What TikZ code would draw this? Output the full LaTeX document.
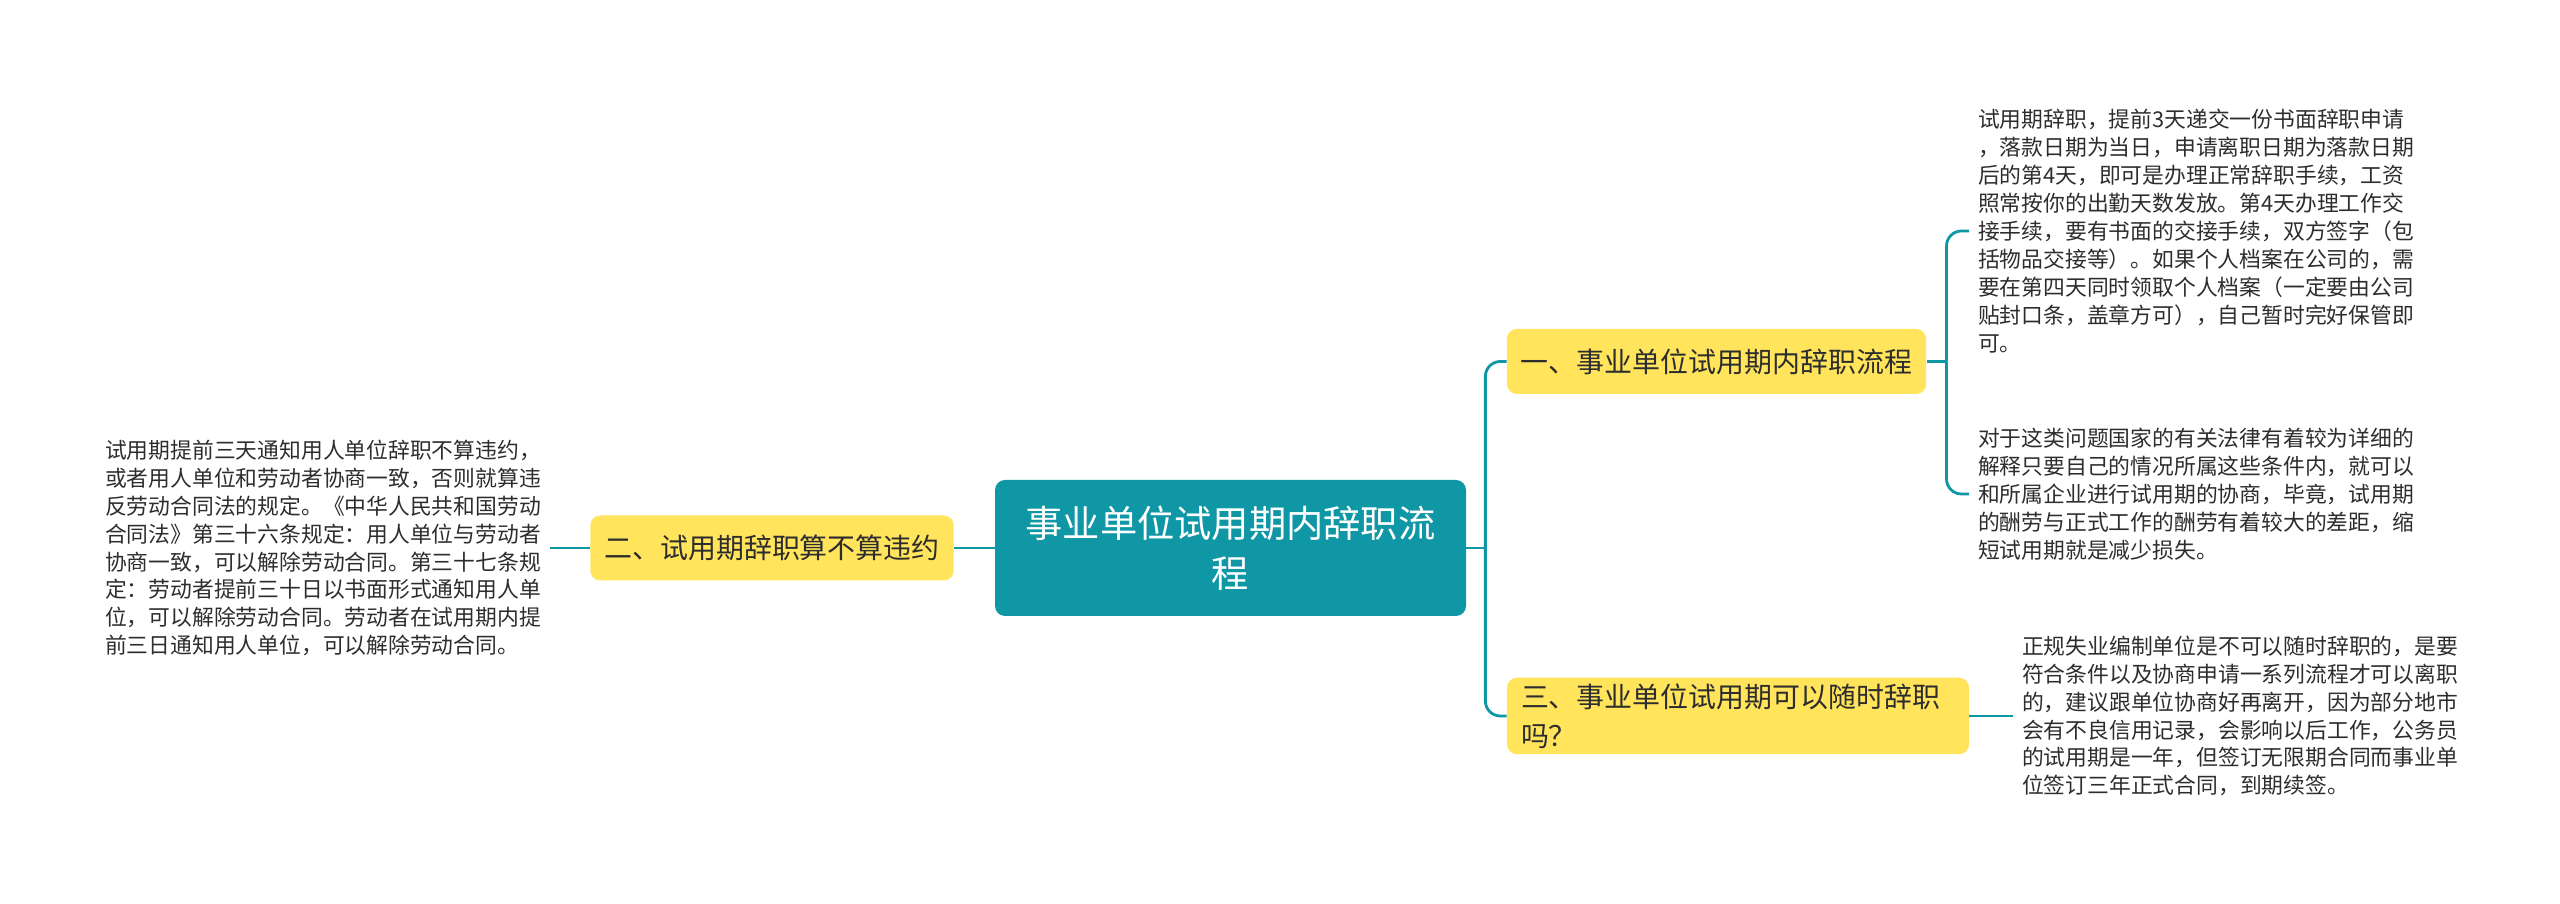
\documentclass[tikz,border=0pt]{standalone}
\usepackage{tikz}
\usepackage{xcolor}
\usepackage{fontspec}
\setmainfont{Noto Sans CJK SC}
\usetikzlibrary{shapes,arrows,positioning,calc}
\definecolor{mapteal}{RGB}{16,151,166}
\definecolor{mapyellow}{RGB}{255,228,92}
\definecolor{maptext}{RGB}{45,45,45}

\begin{document}
\begin{tikzpicture}[
    topic/.style={fill=mapteal, rounded corners=0.2cm, text=white, align=center, minimum width=9.42cm, minimum height=2.72cm, font=\fontsize{21.2pt}{28.4pt}\selectfont},
    branch/.style={fill=mapyellow, rounded corners=0.2cm, text=maptext, minimum height=1.3cm, inner xsep=8pt, font=\fontsize{15.9pt}{22.2pt}\selectfont},
    note/.style={text=maptext, align=left, inner xsep=5pt, inner ysep=0pt, font=\fontsize{12.4pt}{15.9pt}\selectfont},
    link/.style={mapteal, line width=1.6pt}
]
				\useasboundingbox (0,0) rectangle (51.2,18.08);
				
				% Central topic
				\node[topic] (topic) at (24.61,7.12) {事业单位试用期内辞职流\\程};
				
				% Branches
				\node[branch] (n2) at (15.44,7.12) {二、试用期辞职算不算违约};
				\node[branch] (n1) at (34.33,10.85) {一、事业单位试用期内辞职流程};
				\node[branch, text width=8.68cm, align=left] (n3) at (34.76,3.76) {三、事业单位试用期可以随时辞职\\吗？};
				
				% Notes
				\node[note, anchor=west] (t0) at (1.92,7.12) {试用期提前三天通知用人单位辞职不算违约，\\或者用人单位和劳动者协商一致，否则就算违\\反劳动合同法的规定。《中华人民共和国劳动\\合同法》第三十六条规定：用人单位与劳动者\\协商一致，可以解除劳动合同。第三十七条规\\定：劳动者提前三十日以书面形式通知用人单\\位，可以解除劳动合同。劳动者在试用期内提\\前三日通知用人单位，可以解除劳动合同。};
				\node[note, anchor=west] (t1) at (39.38,13.46) {试用期辞职，提前3天递交一份书面辞职申请\\，落款日期为当日，申请离职日期为落款日期\\后的第4天，即可是办理正常辞职手续，工资\\照常按你的出勤天数发放。第4天办理工作交\\接手续，要有书面的交接手续，双方签字（包\\括物品交接等）。如果个人档案在公司的，需\\要在第四天同时领取个人档案（一定要由公司\\贴封口条，盖章方可），自己暂时完好保管即\\可。};
				\node[note, anchor=west] (t2) at (39.38,8.2) {对于这类问题国家的有关法律有着较为详细的\\解释只要自己的情况所属这些条件内，就可以\\和所属企业进行试用期的协商，毕竟，试用期\\的酬劳与正式工作的酬劳有着较大的差距，缩\\短试用期就是减少损失。};
				\node[note, anchor=west] (t3) at (40.26,3.76) {正规失业编制单位是不可以随时辞职的，是要\\符合条件以及协商申请一系列流程才可以离职\\的，建议跟单位协商好再离开，因为部分地市\\会有不良信用记录，会影响以后工作，公务员\\的试用期是一年，但签订无限期合同而事业单\\位签订三年正式合同，到期续签。};
				
				% Left side links
				\draw[link] (topic.west) -- (n2.east);
				\draw[link] (n2.west) -- (t0.east);
				
				% Right side links
				\coordinate (rj) at ($(topic.east)+(0.38,0)$);
				\draw[link] (topic.east) -- (rj);
				\draw[link, rounded corners=0.3cm] (rj) |- (n1.west);
				\draw[link, rounded corners=0.3cm] (rj) |- (n3.west);
				\coordinate (sj) at ($(n1.east)+(0.4,0)$);
				\draw[link] (n1.east) -- (sj);
				\draw[link, rounded corners=0.3cm] (sj) |- (t1.west);
				\draw[link, rounded corners=0.3cm] (sj) |- (t2.west);
				\draw[link] (n3.east) -- (t3.west);
			\end{tikzpicture}
\end{document}
